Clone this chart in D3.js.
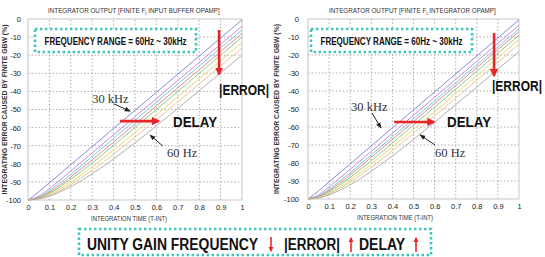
<!DOCTYPE html>
<html>
<head>
<meta charset="utf-8">
<script src="https://cdn.jsdelivr.net/npm/d3@7"></script>
<style>
  body { margin: 0; background: #fff; }
  svg { display: block; font-family: Arial, "Liberation Sans", sans-serif; }
  .tick text { font-size: 7.5px; fill: #222; }
  .grid line { stroke: #9a9a9a; stroke-width: 0.8; stroke-dasharray: 1.5,2; }
</style>
</head>
<body>
<div id="chart"></div>
<script>
// integration time samples (T-INT)
const timeSteps = [0, 0.05, 0.1, 0.15, 0.2, 0.3, 0.4, 0.5, 0.6, 0.7, 0.8, 0.9, 1]

// error (%) per curve, 30 kHz (first) ... 60 Hz (last)
const leftCurves = [
  [-100, -95.5, -90.5, -85.5, -80.5, -70.5, -60.5, -50.5, -40.5, -30.5, -20.5, -10.5, -0.5],
  [-100, -97.9, -93.7, -88.9, -84, -74, -64, -54, -44, -34, -24, -14, -4],
  [-100, -98.4, -94.9, -90.5, -85.8, -76, -66, -56, -46, -36, -26, -16, -6],
  [-100, -98.7, -95.7, -91.8, -87.3, -77.8, -68, -58, -48, -38, -28, -18, -8],
  [-100, -98.9, -96.3, -92.8, -88.6, -79.5, -69.8, -59.9, -50, -40, -30, -20, -10],
  [-100, -99.2, -97, -93.9, -90.2, -81.7, -72.4, -62.7, -52.9, -42.9, -33, -23, -13],
  [-100, -99.3, -97.4, -94.7, -91.4, -83.6, -74.7, -65.3, -55.6, -45.8, -35.9, -26, -16],
  [-100, -99.4, -97.9, -95.5, -92.6, -85.5, -77.3, -68.4, -59, -49.4, -39.6, -29.8, -19.9]
]
const rightCurves = [
  [-100, -95.5, -90.5, -85.5, -80.5, -70.5, -60.5, -50.5, -40.5, -30.5, -20.5, -10.5, -0.5],
  [-100, -97.7, -93.3, -88.4, -83.5, -73.5, -63.5, -53.5, -43.5, -33.5, -23.5, -13.5, -3.5],
  [-100, -98.3, -94.6, -90.1, -85.4, -75.5, -65.5, -55.5, -45.5, -35.5, -25.5, -15.5, -5.5],
  [-100, -98.6, -95.3, -91.2, -86.6, -76.9, -67, -57, -47, -37, -27, -17, -7],
  [-100, -98.8, -96, -92.3, -88, -78.7, -68.9, -59, -49, -39, -29, -19, -9],
  [-100, -99.1, -96.7, -93.4, -89.5, -80.6, -71.1, -61.4, -51.6, -41.5, -31.5, -21.5, -11.5],
  [-100, -99.2, -97.1, -94.2, -90.6, -82.4, -73.2, -63.6, -53.8, -43.9, -34, -24, -14],
  [-100, -99.4, -97.7, -95.2, -92.1, -84.6, -76.1, -66.9, -57.4, -47.6, -37.8, -27.9, -18]
]
const curveColors = ["#7b7bdc", "#cf78d6", "#5cc8d8", "#e47b7b", "#7cc87c", "#e4d45a", "#e6c08c", "#a6a6a6"]

const xTicks = [0, 0.1, 0.2, 0.3, 0.4, 0.5, 0.6, 0.7, 0.8, 0.9, 1]
const yTicks = [0, -10, -20, -30, -40, -50, -60, -70, -80, -90, -100]

const panelTitleHeads = ["INTEGRATOR OUTPUT [FINITE F", "INTEGRATOR OUTPUT [FINITE F"]
const panelTitleTails = ["INPUT BUFFER OPAMP]", "INTEGRATOR OPAMP]"]
const freqRangeText = "FREQUENCY RANGE = 60Hz ~ 30kHz"

const width = 545
const height = 257

const svg = d3.select("#chart").append("svg")
    .attr("width", width)
    .attr("height", height)

const defs = svg.append("defs")
defs.append("marker")
    .attr("id", "headRed")
    .attr("viewBox", "0 0 10 10")
    .attr("refX", 8).attr("refY", 5)
    .attr("markerWidth", 3.2).attr("markerHeight", 3.2)
    .attr("orient", "auto")
  .append("path")
    .attr("d", "M0,0L10,5L0,10z")
    .attr("fill", "#e8262a")
defs.append("marker")
    .attr("id", "headBlack")
    .attr("viewBox", "0 0 10 10")
    .attr("refX", 9).attr("refY", 5)
    .attr("markerWidth", 6).attr("markerHeight", 6)
    .attr("orient", "auto")
  .append("path")
    .attr("d", "M0,1L10,5L0,9z")
    .attr("fill", "#222")

function drawPanel(cfg) {
  const x = d3.scaleLinear().domain([0, 1]).range(cfg.xRange)
  const y = d3.scaleLinear().domain([-100, 0]).range(cfg.yRange)
  const g = svg.append("g")

  // grid
  g.append("g").attr("class", "grid")
    .selectAll("line.v").data(xTicks.slice(1, -1)).join("line")
      .attr("x1", d => x(d)).attr("x2", d => x(d))
      .attr("y1", y(-100)).attr("y2", y(0))
  g.append("g").attr("class", "grid")
    .selectAll("line.h").data(yTicks.slice(1, -1)).join("line")
      .attr("x1", x(0)).attr("x2", x(1))
      .attr("y1", d => y(d)).attr("y2", d => y(d))

  g.append("rect")
      .attr("x", x(0)).attr("y", y(0))
      .attr("width", x(1) - x(0)).attr("height", y(-100) - y(0))
      .attr("fill", "none").attr("stroke", "#b8b8b8").attr("stroke-width", 0.8)

  // axes
  const xAxis = g.append("g")
      .attr("transform", `translate(0,${y(-100)})`)
      .call(d3.axisBottom(x).tickValues(xTicks).tickSize(0).tickPadding(5).tickFormat(d => d))
  const yAxis = g.append("g")
      .attr("transform", `translate(${x(0)},0)`)
      .call(d3.axisLeft(y).tickValues(yTicks).tickSize(0).tickPadding(cfg.yPad).tickFormat(d => d))
  xAxis.select(".domain").remove()
  yAxis.select(".domain").remove()

  // curves
  const line = d3.line()
      .x((d, i) => x(timeSteps[i]))
      .y(d => y(d))
      .curve(d3.curveMonotoneX)
  g.append("g")
    .selectAll("path").data(cfg.curves).join("path")
      .attr("d", line)
      .attr("fill", "none")
      .attr("stroke", (d, i) => curveColors[i])
      .attr("stroke-width", 0.9)

  // title with subscript t
  const title = g.append("text")
      .attr("x", cfg.titleX).attr("y", 13)
      .attr("font-size", 6.3).attr("fill", "#333")
  title.append("tspan").text(cfg.title[0])
  title.append("tspan").attr("font-size", 4.6).attr("dy", 1.5).text("t")
  title.append("tspan").attr("dy", -1.5).text(" " + cfg.title[1])

  g.append("text")
      .attr("transform", `translate(${cfg.yLabelX},${(y(0) + y(-100)) / 2}) rotate(-90)`)
      .attr("text-anchor", "middle")
      .attr("font-size", 7.4)
      .attr("font-weight", "bold")
      .attr("fill", "#333")
      .attr("textLength", 170).attr("lengthAdjust", "spacingAndGlyphs")
      .text("INTEGRATING ERROR CAUSED BY FINITE GBW (%)")

  g.append("text")
      .attr("x", cfg.xLabelX).attr("y", y(-100) + 21)
      .attr("text-anchor", "middle")
      .attr("font-size", 6.8)
      .attr("fill", "#333")
      .attr("textLength", 76).attr("lengthAdjust", "spacingAndGlyphs")
      .text("INTEGRATION TIME (T-INT)")

  // frequency range box
  g.append("rect")
      .attr("x", cfg.boxX).attr("y", 29)
      .attr("width", 161).attr("height", 23)
      .attr("fill", "#fff")
      .attr("stroke", "#3cc6bc").attr("stroke-width", 2.6)
      .attr("stroke-dasharray", "2.4,2.6")
  g.append("text")
      .attr("x", cfg.boxX + 80.5).attr("y", 44.5)
      .attr("text-anchor", "middle")
      .attr("font-size", 10)
      .attr("font-weight", "bold")
      .attr("fill", "#111")
      .attr("textLength", 142).attr("lengthAdjust", "spacingAndGlyphs")
      .text(freqRangeText)

  // annotations (placed in data coordinates)
  const a = cfg.notes
  g.append("text")
      .attr("x", x(a.khz[0])).attr("y", y(a.khz[1]))
      .attr("font-family", "'Liberation Serif', 'DejaVu Serif', serif")
      .attr("font-size", 12.5).attr("fill", "#333")
      .text("30 kHz")
  g.append("text")
      .attr("x", x(a.hz[0])).attr("y", y(a.hz[1]))
      .attr("font-family", "'Liberation Serif', 'DejaVu Serif', serif")
      .attr("font-size", 12.5).attr("fill", "#333")
      .text("60 Hz")
  ;[a.khzArrow, a.hzArrow].forEach(p => {
    g.append("line")
        .attr("x1", x(p[0])).attr("y1", y(p[1]))
        .attr("x2", x(p[2])).attr("y2", y(p[3]))
        .attr("stroke", "#222").attr("stroke-width", 1)
        .attr("marker-end", "url(#headBlack)")
  })
  ;[a.delayArrow, a.errorArrow].forEach(p => {
    g.append("line")
        .attr("x1", x(p[0])).attr("y1", y(p[1]))
        .attr("x2", x(p[2])).attr("y2", y(p[3]))
        .attr("stroke", "#e8262a").attr("stroke-width", 2.6)
        .attr("marker-end", "url(#headRed)")
  })
  g.append("text")
      .attr("x", x(a.delay[0])).attr("y", y(a.delay[1]))
      .attr("font-size", 14).attr("font-weight", "bold").attr("fill", "#111")
      .attr("textLength", 44).attr("lengthAdjust", "spacingAndGlyphs")
      .text("DELAY")
  g.append("text")
      .attr("x", x(a.error[0])).attr("y", y(a.error[1]))
      .attr("font-size", 12.8).attr("font-weight", "bold").attr("fill", "#111")
      .attr("textLength", 50).attr("lengthAdjust", "spacingAndGlyphs")
      .attr("transform", `translate(0,${y(a.error[1])}) scale(1,1.18) translate(0,${-y(a.error[1])})`)
      .text("|ERROR|")
}

drawPanel({
  xRange: [28, 242], yRange: [200, 19], curves: leftCurves, yPad: 7,
  title: [panelTitleHeads[0], panelTitleTails[0]], titleX: 48,
  yLabelX: 7, xLabelX: 129, boxX: 35,
  notes: {
    khz: [0.3, -46.4], khzArrow: [0.40, -46.8, 0.477, -51],
    hz: [0.65, -76.2], hzArrow: [0.63, -70.2, 0.57, -64.1],
    delayArrow: [0.43, -56.4, 0.61, -56.4], delay: [0.678, -59.7],
    errorArrow: [0.893, -6.1, 0.893, -30.5], error: [0.893, -42]
  }
})

drawPanel({
  xRange: [308, 519], yRange: [199, 19], curves: rightCurves, yPad: 9,
  title: [panelTitleHeads[1], panelTitleTails[1]], titleX: 329,
  yLabelX: 279, xLabelX: 395, boxX: 311,
  notes: {
    khz: [0.204, -51.1], khzArrow: [0.303, -52.2, 0.346, -60.6],
    hz: [0.602, -76.7], hzArrow: [0.602, -70, 0.531, -64.4],
    delayArrow: [0.408, -57.2, 0.597, -57.2], delay: [0.659, -60],
    errorArrow: [0.882, -7.8, 0.882, -31.5], error: [0.872, -40]
  }
})

// bottom summary box
const bottom = svg.append("g")
bottom.append("rect")
    .attr("x", 79).attr("y", 229)
    .attr("width", 352).attr("height", 26)
    .attr("fill", "#fff")
    .attr("stroke", "#3cc6bc").attr("stroke-width", 2.6)
    .attr("stroke-dasharray", "2.4,2.6")
const summaryParts = [
  { text: "UNITY GAIN FREQUENCY", x: 87, len: 171 },
  { text: "|ERROR|", x: 284, len: 56 },
  { text: "DELAY", x: 359, len: 46 }
]
bottom.selectAll("text").data(summaryParts).join("text")
    .attr("x", d => d.x).attr("y", 250)
    .attr("font-size", 16)
    .attr("font-weight", "bold")
    .attr("fill", "#111")
    .attr("textLength", d => d.len).attr("lengthAdjust", "spacingAndGlyphs")
    .text(d => d.text)
const summaryArrows = [
  { x: 271, down: true },
  { x: 351, down: false },
  { x: 416, down: false }
]
summaryArrows.forEach(d => {
  bottom.append("line")
      .attr("x1", d.x).attr("x2", d.x)
      .attr("y1", d.down ? 237 : 252).attr("y2", d.down ? 251 : 238)
      .attr("stroke", "#e8262a").attr("stroke-width", 1.6)
      .attr("marker-end", "url(#headRed)")
})
</script>
</body>
</html>
